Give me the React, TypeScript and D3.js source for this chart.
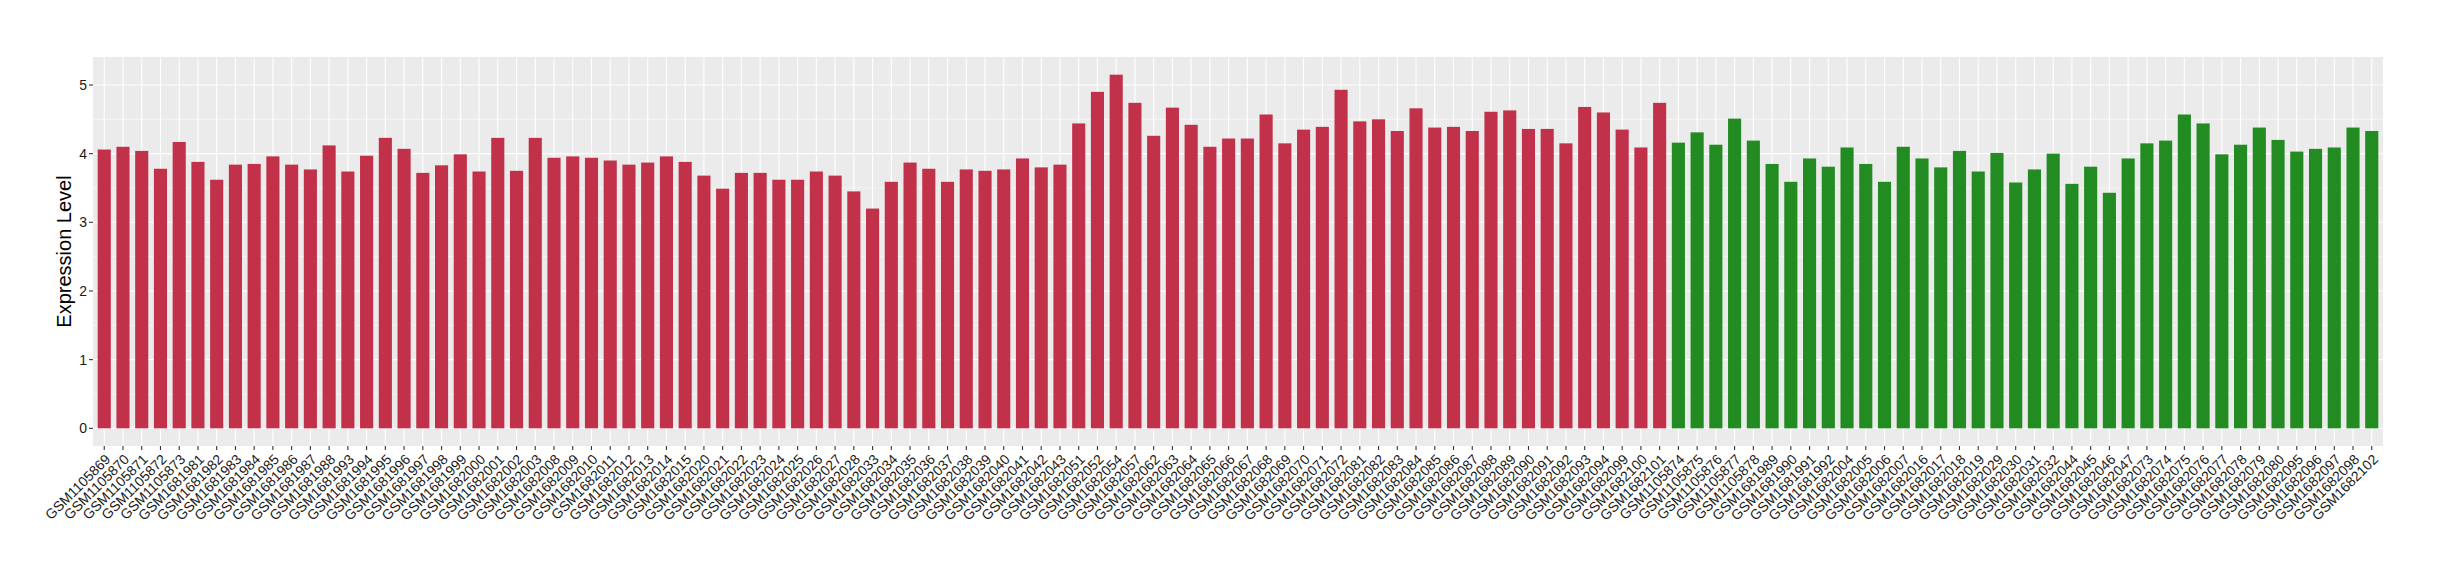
import React from "react";
import * as d3 from "d3";

const redSamples = [
  "GSM1105869", "GSM1105870", "GSM1105871", "GSM1105872", "GSM1105873",
  "GSM1681981", "GSM1681982", "GSM1681983", "GSM1681984", "GSM1681985", "GSM1681986", "GSM1681987", "GSM1681988",
  "GSM1681993", "GSM1681994", "GSM1681995", "GSM1681996", "GSM1681997", "GSM1681998", "GSM1681999",
  "GSM1682000", "GSM1682001", "GSM1682002", "GSM1682003",
  "GSM1682008", "GSM1682009", "GSM1682010", "GSM1682011", "GSM1682012", "GSM1682013", "GSM1682014", "GSM1682015",
  "GSM1682020", "GSM1682021", "GSM1682022", "GSM1682023", "GSM1682024", "GSM1682025", "GSM1682026", "GSM1682027", "GSM1682028",
  "GSM1682033", "GSM1682034", "GSM1682035", "GSM1682036", "GSM1682037", "GSM1682038", "GSM1682039", "GSM1682040", "GSM1682041", "GSM1682042", "GSM1682043",
  "GSM1682051", "GSM1682052", "GSM1682054", "GSM1682057",
  "GSM1682062", "GSM1682063", "GSM1682064", "GSM1682065", "GSM1682066", "GSM1682067", "GSM1682068", "GSM1682069", "GSM1682070", "GSM1682071", "GSM1682072",
  "GSM1682081", "GSM1682082", "GSM1682083", "GSM1682084", "GSM1682085", "GSM1682086", "GSM1682087", "GSM1682088", "GSM1682089", "GSM1682090", "GSM1682091", "GSM1682092", "GSM1682093", "GSM1682094",
  "GSM1682099", "GSM1682100", "GSM1682101",
];

const redValues = [
  4.06, 4.10, 4.04, 3.78, 4.17, 3.88, 3.62, 3.84, 3.85, 3.96, 3.84, 3.77, 4.12, 3.74, 3.97, 4.23, 4.07, 3.72, 3.83, 3.99, 3.74, 4.23, 3.75, 4.23,
  3.94, 3.96, 3.94, 3.90, 3.84, 3.87, 3.96, 3.88, 3.68, 3.49, 3.72, 3.72, 3.62, 3.62, 3.74, 3.68, 3.45, 3.20, 3.59, 3.87, 3.78, 3.59, 3.77, 3.75, 3.77,
  3.93, 3.80, 3.84, 4.44, 4.90, 5.15, 4.74, 4.26, 4.67, 4.42, 4.10, 4.22, 4.22, 4.57, 4.15, 4.35, 4.39, 4.93, 4.47, 4.50, 4.33, 4.66, 4.38, 4.39, 4.33,
  4.61, 4.63, 4.36, 4.36, 4.15, 4.68, 4.60, 4.35, 4.09, 4.74,
];

const greenSamples = [
  "GSM1105874", "GSM1105875", "GSM1105876", "GSM1105877", "GSM1105878",
  "GSM1681989", "GSM1681990", "GSM1681991", "GSM1681992",
  "GSM1682004", "GSM1682005", "GSM1682006", "GSM1682007",
  "GSM1682016", "GSM1682017", "GSM1682018", "GSM1682019",
  "GSM1682029", "GSM1682030", "GSM1682031", "GSM1682032",
  "GSM1682044", "GSM1682045", "GSM1682046", "GSM1682047",
  "GSM1682073", "GSM1682074", "GSM1682075", "GSM1682076", "GSM1682077", "GSM1682078", "GSM1682079", "GSM1682080",
  "GSM1682095", "GSM1682096", "GSM1682097", "GSM1682098",
  "GSM1682102",
];

const greenValues = [
  4.16, 4.31, 4.13, 4.51, 4.19, 3.85, 3.59, 3.93, 3.81, 4.09, 3.85, 3.59, 4.10, 3.93,
  3.80, 4.04, 3.74, 4.01, 3.58, 3.77, 4.00, 3.56, 3.81, 3.43, 3.93, 4.15, 4.19, 4.57, 4.44, 3.99, 4.13, 4.38, 4.20, 4.03, 4.07, 4.09, 4.38, 4.33,
];

const yTicks = [0, 1, 2, 3, 4, 5];
const yMinorTicks = [0.5, 1.5, 2.5, 3.5, 4.5];
const yTitle = "Expression Level";
const groupColors = { red: "#C2314A", green: "#228B22" };

const FONT = "'Liberation Sans', Arial, Helvetica, sans-serif";

export default function App() {
  const W = 2440;
  const H = 580;
  const panel = { left: 93, right: 2383, top: 57, bottom: 446 };

  const data = [
    ...redSamples.map((s, i) => ({ s, v: redValues[i], g: "red" })),
    ...greenSamples.map((s, i) => ({ s, v: greenValues[i], g: "green" })),
  ];

  const x = d3
    .scalePoint<string>()
    .domain(data.map((d) => d.s))
    .range([panel.left, panel.right])
    .padding(0.6);
  const step = x.step();
  const barW = step * 0.7;

  const maxV = d3.max(data, (d) => d.v) as number;
  const y = d3
    .scaleLinear()
    .domain([-maxV * 0.05, maxV * 1.05])
    .range([panel.bottom, panel.top]);

  return (
    <svg
      width={W}
      height={H}
      style={{ position: "absolute", left: 0, top: 0, background: "#fff" }}
      fontFamily={FONT}
    >
      <rect x={0} y={0} width={W} height={H} fill="#fff" />
      <rect
        x={panel.left}
        y={panel.top}
        width={panel.right - panel.left}
        height={panel.bottom - panel.top}
        fill="#EBEBEB"
      />
      {yMinorTicks.map((t) => (
        <line
          key={"ym" + t}
          x1={panel.left}
          x2={panel.right}
          y1={y(t)}
          y2={y(t)}
          stroke="#fff"
          strokeWidth={0.55}
        />
      ))}
      {yTicks.map((t) => (
        <line
          key={"yg" + t}
          x1={panel.left}
          x2={panel.right}
          y1={y(t)}
          y2={y(t)}
          stroke="#fff"
          strokeWidth={1.1}
        />
      ))}
      {data.map((d) => (
        <line
          key={"xg" + d.s}
          x1={x(d.s)}
          x2={x(d.s)}
          y1={panel.top}
          y2={panel.bottom}
          stroke="#fff"
          strokeWidth={1.1}
        />
      ))}
      {data.map((d) => (
        <rect
          key={"b" + d.s}
          x={(x(d.s) as number) - barW / 2}
          y={y(d.v)}
          width={barW}
          height={y(0) - y(d.v)}
          fill={groupColors[d.g as "red" | "green"]}
        />
      ))}
      {/* y axis */}
      {yTicks.map((t) => (
        <g key={"yt" + t}>
          <line
            x1={panel.left - 4}
            x2={panel.left}
            y1={y(t)}
            y2={y(t)}
            stroke="#333"
            strokeWidth={1.1}
          />
          <text
            x={panel.left - 6}
            y={y(t)}
            dy="0.36em"
            textAnchor="end"
            fontSize={14}
            fill="#1a1a1a"
          >
            {t}
          </text>
        </g>
      ))}
      {/* x axis */}
      {data.map((d) => {
        const px = x(d.s) as number;
        return (
          <g key={"xt" + d.s}>
            <line
              x1={px}
              x2={px}
              y1={panel.bottom}
              y2={panel.bottom + 4}
              stroke="#333"
              strokeWidth={1.1}
            />
            <text
              transform={`translate(${px},${panel.bottom + 7}) rotate(-45)`}
              dy="0.72em"
              textAnchor="end"
              fontSize={14}
              fill="#1a1a1a"
            >
              {d.s}
            </text>
          </g>
        );
      })}
      <text
        transform={`translate(${71},${(panel.top + panel.bottom) / 2}) rotate(-90)`}
        textAnchor="middle"
        fontSize={20}
        fill="#000"
      >
        {yTitle}
      </text>
    </svg>
  );
}
